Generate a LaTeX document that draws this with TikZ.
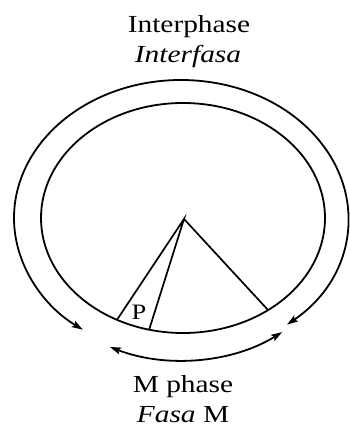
\documentclass[tikz,border=0pt]{standalone}
\usepackage{fontspec}
\setmainfont[FakeStretch=1.2]{Liberation Serif}
\usetikzlibrary{arrows.meta,calc}
\begin{document}
\begin{tikzpicture}[x=1pt,y=1pt,
  curve/.style={line width=1.8pt, black},
  tips/.style={curve, {Stealth[length=11pt,width=7pt,inset=2pt]}-{Stealth[length=11pt,width=7pt,inset=2pt]}},
  lbl/.style={inner sep=0pt, anchor=base, font=\fontsize{24.5}{28}\selectfont}]
\useasboundingbox (0,0) rectangle (349,427);
\coordinate (c) at (181,209);
\coordinate (ci) at (183,209);
\coordinate (A) at (184,208);
% inner ellipse
\draw[curve] (ci) ellipse [x radius=142, y radius=115];
% outer arc with arrows
\draw[tips] ([shift={(309.4:167 and 138)}]c) arc[start angle=309.4, end angle=594, x radius=167, y radius=138];
% bottom arc with arrows
\draw[tips] ([shift={(245.3:170 and 142)}]c) arc[start angle=245.3, end angle=306.5, x radius=170, y radius=142];
% triangle lines
\coordinate (L) at ([shift={(242.3:142 and 115)}]ci);
\coordinate (Mi) at ([shift={(256.2:142 and 115)}]ci);
\coordinate (R) at ([shift={(306.8:142 and 115)}]ci);
\draw[curve, line width=1.7pt] (L) -- (A) -- (Mi);
\draw[curve, line width=1.7pt] (A) -- (R);
\node[inner sep=0pt, font=\fontsize{22}{26}\selectfont] (p) at (139,115) {P};
% labels
\node[lbl] (t1) at (189,394) {Interphase};
\node[lbl] (t2) at (188,364) {\itshape Interfasa};
\node[lbl] (t3) at (183,34) {M phase};
\node[lbl] (t4) at (183,5) {\itshape Fasa\/\upshape\ M};
\end{tikzpicture}
\end{document}
